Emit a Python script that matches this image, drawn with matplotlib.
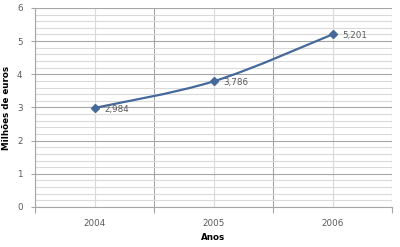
import matplotlib.pyplot as plt
from matplotlib.path import Path
from matplotlib.patches import PathPatch
from matplotlib.ticker import MultipleLocator, FixedLocator

anos = ['2004', '2005', '2006']
valores = [2.984, 3.786, 5.201]
rotulos = ['2,984', '3,786', '5,201']

cor_linha = '#45699b'
cor_texto = '#595959'

fig = plt.figure(figsize=(4, 2.47), dpi=100)
ax = fig.add_axes([0.0875, 0.162, 0.8925, 0.806])

xs = list(range(len(anos)))

# linha suavizada (estilo Excel) com curvas de bezier pelos pontos
verts = [(xs[0], valores[0])]
codes = [Path.MOVETO]
n = len(xs)
for i in range(n - 1):
    p0 = (xs[i - 1], valores[i - 1]) if i > 0 else (xs[i], valores[i])
    p1 = (xs[i], valores[i])
    p2 = (xs[i + 1], valores[i + 1])
    p3 = (xs[i + 2], valores[i + 2]) if i + 2 < n else p2
    c1 = (p1[0] + (p2[0] - p0[0]) / 6, p1[1] + (p2[1] - p0[1]) / 6)
    c2 = (p2[0] - (p3[0] - p1[0]) / 6, p2[1] - (p3[1] - p1[1]) / 6)
    verts += [c1, c2, p2]
    codes += [Path.CURVE4] * 3
ax.add_patch(PathPatch(Path(verts, codes), fill=False, edgecolor=cor_linha,
                       linewidth=1.6, zorder=3))
ax.plot(xs, valores, linestyle='none', marker='D', markersize=4.5,
        color=cor_linha, zorder=4)

for x, y, r in zip(xs, valores, rotulos):
    ax.annotate(r, (x, y), xytext=(7, -1), textcoords='offset points',
                fontsize=6.3, color=cor_texto, va='center', ha='left')

ax.set_xlim(-0.5, len(anos) - 0.5)
ax.set_ylim(0, 6)
ax.xaxis.set_major_locator(FixedLocator([-0.5, 0.5, 1.5, 2.5]))
ax.xaxis.set_minor_locator(FixedLocator(xs))
ax.set_xticklabels([])
ax.set_xticklabels(anos, minor=True)
ax.yaxis.set_major_locator(MultipleLocator(1))
ax.yaxis.set_minor_locator(MultipleLocator(0.2))

ax.grid(which='major', color='#a6a6a6', linewidth=0.8)
ax.grid(which='minor', color='#dadada', linewidth=0.8)
ax.set_axisbelow(True)

for s in ['top', 'right']:
    ax.spines[s].set_visible(False)
ax.spines['left'].set_color('#a6a6a6')
ax.spines['bottom'].set_color('#a6a6a6')

ax.tick_params(axis='x', which='major', length=4, color='#a6a6a6')
ax.tick_params(axis='x', which='minor', length=0, labelsize=6.3,
               labelcolor=cor_texto, pad=9)
ax.tick_params(axis='y', which='major', length=3, color='#a6a6a6',
               labelsize=6.3, labelcolor=cor_texto, pad=6)
ax.tick_params(axis='y', which='minor', length=0)

ax.set_xlabel('Anos', fontsize=6.3, fontweight='bold', labelpad=3)
ax.set_ylabel('Milhões de euros', fontsize=6.3, fontweight='bold', labelpad=4)

fig.savefig('out.png', dpi=100)
